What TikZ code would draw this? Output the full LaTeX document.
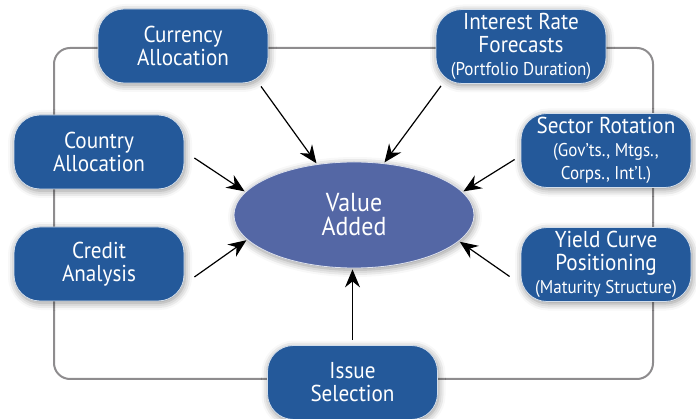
\documentclass[tikz,border=0pt]{standalone}
\usepackage{fontspec}
\setmainfont{PT Sans}[FakeStretch=0.92]
\usetikzlibrary{arrows.meta,shapes.geometric,shadows.blur}
\definecolor{boxblue}{RGB}{36,89,154}
\definecolor{valblue}{RGB}{84,103,165}
\definecolor{framegray}{RGB}{142,140,142}
\newcommand\boxfont{\fontsize{23}{23}\selectfont}
\newcommand\subfont{\fontsize{18.5}{20}\selectfont}
\tikzset{
  box/.style={rectangle, rounded corners=26pt, fill=boxblue, draw=white!80!boxblue,
    line width=0.8pt, text=white, minimum width=170pt, minimum height=74pt,
    inner sep=0pt, align=center, font=\boxfont,
    blur shadow={shadow xshift=1pt, shadow yshift=-2pt, shadow blur radius=7pt, shadow opacity=45}},
  value/.style={ellipse, fill=valblue, draw=white!80!valblue, line width=0.8pt,
    text=white, minimum width=240pt, minimum height=106pt, inner sep=0pt,
    align=center, font=\fontsize{26}{24}\selectfont,
    blur shadow={shadow xshift=1pt, shadow yshift=-2pt, shadow blur radius=7pt, shadow opacity=45}},
  arr/.style={->, line width=1.2pt, shorten >=1pt},
}
\begin{document}
\begin{tikzpicture}[x=1pt, y=-1pt, >={Stealth[length=18pt,width=15pt,inset=6pt]}]
  \useasboundingbox (0,0) rectangle (696,419);
  % frame
  \draw[framegray, line width=2pt, rounded corners=16pt] (54,48) rectangle (653,379);

  % boxes
  \node[box] (cur) at (183,46)    {Currency\\Allocation};
  \node[box] (irf) at (521,46.5)  {Interest Rate\\Forecasts\\{\subfont (Portfolio Duration)}};
  \node[box] (cty) at (99,152)    {Country\\Allocation};
  \node[box] (sec) at (606,150.5) {Sector Rotation\\{\subfont (Gov’ts., Mtgs.,}\\{\subfont Corps., Int’l.)}};
  \node[box] (cre) at (99,264)    {Credit\\Analysis};
  \node[box] (ycp) at (606,264.5) {Yield Curve\\Positioning\\{\subfont (Maturity Structure)}};
  \node[box] (iss) at (352.5,382.5) {Issue\\Selection};

  \node[value] (val) at (354,215) {Value\\Added};

  % arrows
  \draw[arr] ([xshift=78pt,yshift=-3pt]cur.south) -- (val.126);
  \draw[arr] ([xshift=-80pt,yshift=-2pt]irf.south) -- (val.60);
  \draw[arr] ([xshift=10pt,yshift=-6pt]cty.east) -- (val.168);
  \draw[arr] ([xshift=-6pt,yshift=-9pt]sec.west) -- (val.12);
  \draw[arr] ([xshift=10pt,yshift=-13pt]cre.east) -- (val.-167);
  \draw[arr] ([xshift=-11pt,yshift=-12pt]ycp.west) -- (val.-14);
  \draw[arr] ([yshift=5pt]iss.north) -- (iss.north |- val.south);
\end{tikzpicture}
\end{document}
